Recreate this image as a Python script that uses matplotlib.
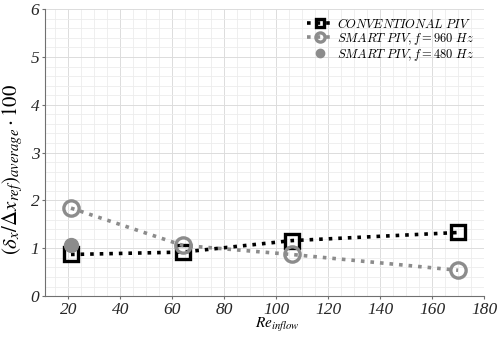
import numpy as np
import matplotlib
matplotlib.use("Agg")
import matplotlib.pyplot as plt
from matplotlib.ticker import MultipleLocator

# Data
re_conv = [21, 64, 106, 170]
err_conv = [0.87, 0.92, 1.16, 1.33]
re_smart960 = [21, 64, 106, 170]
err_smart960 = [1.84, 1.06, 0.87, 0.54]
re_smart480 = [21]
err_smart480 = [1.06]

labels = [r'$CONVENTIONAL\ PIV$',
          r'$SMART\ PIV, f = 960\ Hz$',
          r'$SMART\ PIV, f = 480\ Hz$']

plt.rcParams['mathtext.fontset'] = 'stix'
plt.rcParams['font.family'] = 'Liberation Serif'

fig = plt.figure(figsize=(4.98, 3.38), dpi=100)
ax = fig.add_axes([0.0904, 0.124, 0.8816, 0.849])

grey = '#8c8c8c'
ax.plot(re_conv, err_conv, ls=':', lw=2.6, color='black', marker='s',
        ms=9.5, mfc='none', mec='black', mew=2.4, label=labels[0], zorder=3)
ax.plot(re_smart960, err_smart960, ls=':', lw=2.6, color=grey, marker='o',
        ms=11, mfc='none', mec=grey, mew=2.4, label=labels[1], zorder=3)
ax.plot(re_smart480, err_smart480, ls='none', color=grey, marker='o',
        ms=10, mfc=grey, mec=grey, label=labels[2], zorder=4)

ax.set_xlim(11, 180)
ax.set_ylim(0, 6)
ax.xaxis.set_major_locator(MultipleLocator(20))
ax.xaxis.set_minor_locator(MultipleLocator(5))
ax.yaxis.set_major_locator(MultipleLocator(1))
ax.yaxis.set_minor_locator(MultipleLocator(0.2))
ax.grid(which='major', color='#dcdcdc', lw=0.7)
ax.grid(which='minor', color='#ececec', lw=0.6)
ax.set_axisbelow(True)

for s in ['top', 'right']:
    ax.spines[s].set_visible(False)
for s in ['left', 'bottom']:
    ax.spines[s].set_color('#707070')
ax.tick_params(which='major', direction='out', length=2, pad=2, color='#707070',
               labelsize=12.5, labelcolor='#262626')
ax.tick_params(which='minor', length=0)
for lab in ax.get_xticklabels() + ax.get_yticklabels():
    lab.set_fontstyle('italic')

ax.set_xlabel(r'$Re_{inflow}$', fontsize=11)
ax.xaxis.set_label_coords(0.53, -0.07)
ax.set_ylabel(r'$(\delta_x/\Delta x_{ref})_{average}\cdot 100$', fontsize=15)
ax.yaxis.set_label_coords(-0.045, 0.443)

ax.legend(loc='upper right', bbox_to_anchor=(0.995, 1.0), frameon=False,
          prop=dict(size=9, math_fontfamily='cm'), markerscale=0.6,
          handlelength=2.0, handletextpad=0.4, labelspacing=0.0,
          borderaxespad=0.2)

fig.savefig('out.png', dpi=100)
